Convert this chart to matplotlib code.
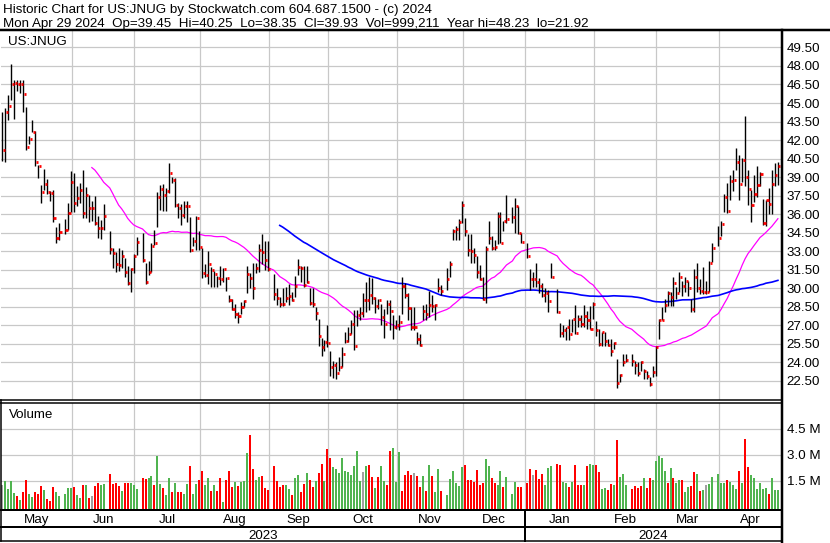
import numpy as np
import pandas as pd
import matplotlib
matplotlib.use("Agg")
import matplotlib.pyplot as plt
from matplotlib.lines import Line2D

# one slot per weekday, market holidays left empty (None)
days = pd.bdate_range("2023-05-01", "2024-04-29")

high = [
    # May 2023
    44.3, 44.57, 45.65, 48.16, 46.9, 46.86, 46.9, 46.9, 44.65, 42.33, 43.62, 42.76, 39.95, 38.4, 39.66, 38.82,
    37.9, 37.93, 34.93, 35.26, None, 35.58, 36.88,
    # Jun
    39.5, 39.33, 38.28, 38.55, 39.58, 38.23, 37.53, 37.07, 37.47, 35.88, 35.53, 36.82, None, 34.65, 33.3, 32.97,
    33.3, 33.11, 32.44, 31.79, 31.63, 32.76,
    # Jul
    34.16, None, 34.46, 32.03, 32.25, 33.7, 34.73, 37.83, 38.37, 38.42, 38.1, 40.12, 39.04, 38.9, 36.91, 36.8,
    37.07, 37.07, 35.81, 34.16, 35.89,
    # Aug
    34.64, 33.27, 31.99, 33.05, 31.72, 31.4, 31.0, 31.77, 31.64, 30.95, 29.45, 29.1, 28.77, 28.1, 28.9, 29.05,
    31.77, 31.2, 32.05, 32.05, 33.55, 34.36, 33.8,
    # Sep
    33.8, None, 31.15, 30.0, 29.32, 30.0, 30.08, 30.35, 29.73, 31.0, 32.4, 31.83, 31.83, 31.83, 30.0, 30.0,
    28.5, 27.49, 25.99, 25.83, 27.0,
    # Oct
    24.9, 24.14, 24.0, 24.46, 25.23, 26.45, 26.86, 27.4, 28.23, 28.28, 28.5, 29.59, 30.55, 30.9, 30.82, 29.32,
    29.16, 28.77, 28.36, 29.05, 29.05, 27.82,
    # Nov
    27.41, 27.82, 30.95, 30.41, 29.59, 28.5, 28.5, 26.45, 26.32, 28.64, 28.77, 29.78, 29.45, 28.77, 30.82, 30.27,
    None, 31.64, 32.18, 34.83, 35.05, 35.59,
    # Dec
    37.09, 35.73, 34.36, 34.36, 33.27, 32.59, 31.91, 30.95, 33.41, 35.45, 34.23, 33.95, 36.14, 36.14, 35.45, 37.55,
    None, 36.55, 37.28, 36.68, 34.5,
    # Jan 2024
    None, 33.68, 31.55, 31.36, 32.05, 30.82, 30.41, 30.0, 29.86, 32.05, None, 29.92, 27.19, 27.0, 26.86, 27.55,
    27.55, 28.64, 27.82, 27.82, 28.64, 28.2, 28.6,
    # Feb
    28.87, 27.38, 26.71, 26.44, 26.44, 25.9, 25.9, 25.63, 24.28, 23.07, 24.69, 24.69, None, 24.69, 24.15, 24.01,
    24.15, 23.47, 23.34, 22.8, 23.74,
    # Mar
    25.36, 27.52, 28.46, 29.14, 29.81, 29.68, 30.89, 30.08, 31.3, 30.62, 30.89, 30.62, 29.14, 31.57, 32.05, 30.76,
    31.7, 30.62, 32.24, 33.67, None,
    # Apr
    35.07, 35.48, 37.64, 38.52, 39.19, 39.6, 41.35, 40.81, 40.54, 43.97, 39.6, 37.98, 39.19, 39.87, 39.4, 37.23,
    37.17, 38.12, 39.6, 40.14, 40.25,
]

low = [
    # May 2023
    40.3, 40.25, 43.62, 45.24, 43.68, 46.0, 45.78, 44.3, 41.2, 41.65, 42.65, 39.9, 38.9, 36.93, 37.93, 37.63,
    37.1, 35.39, 33.64, 33.9, None, 34.37, 34.69,
    # Jun
    36.17, 36.2, 36.69, 36.93, 35.72, 35.72, 35.37, 35.45, 35.1, 34.05, 33.96, 34.72, None, 32.81, 31.63, 31.3,
    31.44, 31.63, 30.92, 30.28, 29.68, 31.2,
    # Jul
    32.7, None, 32.16, 30.33, 31.09, 31.36, 33.51, 34.94, 36.35, 36.29, 36.29, 37.7, 38.5, 36.6, 35.67, 35.13,
    35.67, 35.4, 32.97, 33.4, 33.08,
    # Aug
    33.14, 30.82, 30.9, 30.35, 30.14, 30.14, 30.08, 30.27, 30.55, 29.78, 28.9, 28.23, 27.63, 27.19, 27.95, 28.5,
    29.6, 30.0, 29.13, 31.2, 31.36, 32.0, 31.5,
    # Sep
    31.4, None, 29.05, 28.64, 28.5, 28.56, 28.9, 28.64, 29.0, 29.32, 31.1, 30.5, 30.14, 30.46, 28.64, 28.5,
    27.4, 25.36, 24.55, 24.95, 25.28,
    # Oct
    22.91, 22.72, 22.64, 23.3, 23.6, 25.56, 25.64, 26.32, 25.0, 26.95, 27.4, 27.68, 28.1, 28.23, 28.77, 28.0,
    28.3, 27.0, 26.0, 27.9, 26.59, 25.91,
    # Nov
    26.7, 26.59, 27.95, 29.18, 27.41, 26.59, 26.59, 25.5, 25.36, 27.41, 27.46, 27.68, 28.1, 27.46, 29.73, 29.45,
    None, 29.86, 30.95, 33.95, 33.95, 33.95,
    # Dec
    35.32, 34.23, 32.59, 32.05, 32.05, 30.82, 30.68, 29.05, 28.83, 33.55, 33.14, 33.14, 33.55, 33.68, 34.64, 35.32,
    None, 35.32, 34.5, 34.36, 33.68,
    # Jan 2024
    None, 32.45, 29.86, 30.14, 30.14, 29.59, 29.32, 28.91, 28.09, 30.82, None, 28.01, 26.05, 26.05, 25.83, 25.83,
    26.45, 26.32, 26.86, 26.86, 26.86, 26.7, 26.71,
    # Feb
    27.5, 26.17, 25.36, 25.36, 25.36, 25.36, 24.55, 25.1, 21.92, 22.39, 23.74, 24.0, None, 23.74, 23.07, 22.93,
    23.34, 22.66, 22.66, 22.12, 22.8,
    # Mar
    22.93, 25.9, 27.4, 28.06, 28.6, 28.6, 28.6, 29.14, 29.68, 29.4, 29.68, 29.4, 28.06, 28.06, 29.68, 29.54,
    29.54, 29.54, 29.68, 32.1, None,
    # Apr
    33.45, 34.26, 36.15, 36.1, 37.12, 37.85, 39.6, 37.12, 38.6, 38.25, 36.77, 35.34, 37.0, 37.4, 38.3, 35.15,
    35.01, 36.0, 36.0, 38.3, 38.35,
]

close = [
    # May 2023
    41.2, 44.3, 44.76, 46.5, 46.65, 46.5, 46.54, 45.76, 41.4, 42.1, 42.68, 40.22, 39.93, 37.8, 38.44, 37.8,
    37.74, 35.72, 34.1, 34.56, None, 34.75, 36.12,
    # Jun
    38.63, 36.93, 37.34, 37.98, 36.12, 37.58, 36.53, 36.53, 35.26, 34.91, 34.91, 35.85, None, 33.16, 32.89, 32.0,
    31.9, 32.65, 31.36, 30.44, 31.57, 32.65,
    # Jul
    33.78, None, 32.33, 30.55, 31.36, 33.46, 33.7, 37.43, 38.05, 37.56, 37.91, 39.34, 38.8, 36.75, 36.53, 35.94,
    36.7, 36.7, 33.14, 33.86, 35.73,
    # Aug
    33.33, 31.28, 31.09, 32.0, 31.5, 31.12, 30.82, 30.76, 31.55, 30.82, 29.05, 28.36, 27.95, 27.79, 28.45, 28.99,
    31.15, 30.87, 30.05, 31.64, 33.14, 32.92, 32.32,
    # Sep
    31.55, None, 29.51, 29.18, 28.72, 28.77, 29.18, 29.37, 29.05, 30.19, 31.69, 31.64, 30.27, 30.55, 28.83, 28.72,
    28.0, 26.13, 25.23, 25.64, 25.56,
    # Oct
    23.6, 23.8, 23.18, 23.65, 24.68, 25.77, 26.32, 27.13, 25.34, 27.87, 28.0, 29.05, 29.05, 29.46, 29.18, 28.55,
    29.05, 27.68, 27.14, 28.72, 28.17, 26.86,
    # Nov
    27.0, 27.27, 30.19, 29.48, 28.42, 26.86, 26.86, 25.88, 25.39, 28.17, 27.95, 28.64, 28.55, 28.64, 30.05, 29.78,
    None, 30.74, 31.99, 34.64, 34.77, 35.37,
    # Dec
    36.76, 34.64, 33.14, 33.05, 32.73, 31.34, 30.79, 29.16, 33.19, 34.06, 33.25, 33.33, 35.86, 33.68, 35.45, 35.59,
    None, 35.78, 36.68, 34.5, 33.79,
    # Jan 2024
    None, 32.65, 30.74, 30.74, 30.49, 30.19, 29.48, 29.59, 28.99, 30.95, None, 28.09, 26.37, 26.59, 26.84, 26.29,
    27.55, 26.37, 27.55, 27.08, 27.74, 27.4, 26.71,
    # Feb
    28.76, 26.66, 25.5, 26.44, 25.71, 25.44, 24.96, 25.58, 22.34, 23.02, 24.07, 24.23, None, 24.15, 23.82, 23.15,
    24.07, 23.34, 22.93, 22.26, 23.2,
    # Mar
    25.23, 27.47, 27.47, 28.65, 29.62, 29.3, 30.43, 29.62, 30.89, 30.22, 30.62, 30.03, 28.33, 30.89, 30.03, 29.81,
    29.73, 29.73, 32.02, 33.29, None,
    # Apr
    34.05, 35.23, 37.36, 36.23, 38.66, 38.79, 40.19, 38.47, 40.41, 38.98, 38.04, 36.71, 37.66, 38.33, 39.27, 35.28,
    37.12, 36.82, 38.47, 39.2, 39.93,
]

# volume in millions of shares
volume = [
    # May 2023
    1.28, 1.47, 1.05, 1.47, 0.78, 0.61, 0.38, 0.84, 1.53, 0.72, 0.55, 0.84, 0.72, 1.18, 0.99, 0.43,
    0.32, 1.12, 0.86, 0.61, None, 0.72, 1.07,
    # Jun
    1.11, 1.12, 0.66, 0.51, 1.24, 1.28, 0.49, 0.61, 1.18, 1.36, 1.24, 1.3, None, 1.87, 1.3, 1.39,
    1.18, 0.9, 1.36, 1.36, 1.39, 1.28,
    # Jul
    1.01, None, 1.64, 1.59, 1.64, 1.76, 1.28, 2.92, 1.3, 1.07, 0.66, 1.64, 0.84, 1.39, 0.84, 0.84,
    0.72, 1.3, 2.34, 0.72, 1.3,
    # Aug
    1.53, 2.05, 1.24, 1.64, 0.9, 1.24, 0.9, 1.64, 0.26, 1.53, 2.05, 1.12, 1.41, 1.18, 1.41, 1.47,
    3.09, 4.12, 2.16, 1.53, 1.7, 1.76, 1.07,
    # Sep
    1.0, None, 2.34, 1.47, 1.12, 1.24, 1.28, 1.01, 0.66, 1.64, 1.82, 0.84, 1.3, 1.93, 1.53, 1.12,
    1.47, 1.93, 2.45, 1.5, 3.32,
    # Oct
    2.82, 2.28, 2.16, 1.93, 2.8, 2.05, 2.0, 1.82, 2.34, 3.2, 1.47, 2.0, 2.34, 2.39, 1.7, 1.07,
    1.7, 2.34, 1.5, 1.24, 3.2, 3.37,
    # Nov
    1.41, 3.15, 0.9, 1.82, 2.05, 1.86, 1.93, 1.78, 1.12, 1.76, 0.9, 2.39, 1.76, 0.84, 2.16, 0.9,
    None, 0.66, 1.59, 2.05, 1.36, 1.18,
    # Dec
    2.28, 2.39, 1.53, 1.53, 1.41, 2.11, 1.24, 1.36, 2.74, 2.34, 1.64, 1.36, 1.24, 2.05, 1.12, 1.7,
    None, 0.72, 1.41, 1.12, 1.12,
    # Jan 2024
    None, 1.36, 2.16, 1.82, 2.11, 1.59, 1.87, 1.24, 2.22, 2.34, None, 2.45, 2.39, 1.41, 1.36, 1.12,
    1.41, 2.39, 1.24, 1.24, 1.24, 2.34, 2.45,
    # Feb
    2.39, 2.39, 2.0, 1.01, 1.07, 0.95, 1.3, 1.24, 3.84, 1.7, 1.87, 1.24, None, 1.01, 1.18, 1.07,
    1.18, 1.64, 1.07, 1.64, 1.53,
    # Mar
    2.63, 2.92, 2.8, 2.05, 1.36, 2.22, 1.64, 1.36, 1.53, 1.53, 0.84, 1.12, 1.18, 2.0, 1.87, 0.9,
    0.95, 1.24, 1.3, 1.7, None,
    # Apr
    1.87, 1.36, 1.36, 1.53, 1.41, 1.24, 1.01, 2.05, 1.36, 3.89, 2.28, 1.82, 1.64, 1.01, 1.36, 1.01,
    1.07, 0.72, 1.64, 0.95, 1.0,
]

# day direction as shown by the volume colours: u up, d down, n unchanged, - no trading
direction = (
    "nuuuududduuddduddduu-uu"       # May
    "uduududndduu-ddddudduu"        # Jun
    "u-dduuduuduududduuduu"         # Jul
    "dduududduddduduuudduudd"       # Aug
    "d-dddduuduuddudduddud"         # Sep
    "duuuuuuuuuunudduduuddu"        # Oct
    "uuddddnddududuud-uuuuu"        # Nov
    "uddddddduudduudu-uudd"         # Dec
    "-ddnddduuu-dduududddudu"       # Jan
    "udduudduduuu-dddduddu"         # Feb
    "uuuududuuduuddudunuu-"         # Mar
    "uuuduuududduuuuuuduuu"         # Apr
)

header1 = "Historic Chart for US:JNUG by Stockwatch.com 604.687.1500 - (c) 2024"
header2 = "Mon Apr 29 2024  Op=39.45  Hi=40.25  Lo=38.35  Cl=39.93  Vol=999,211  Year hi=48.23  lo=21.92"

plt.rcParams["font.family"] = ["Liberation Sans", "DejaVu Sans"]

W, H = 830, 543
fig = plt.figure(figsize=(W / 100, H / 100), dpi=100)


def box(x0, y0, x1, y1):
    return [x0 / W, 1 - y1 / H, (x1 - x0) / W, (y1 - y0) / H]


def fline(xs, ys, lw):
    fig.add_artist(Line2D([v / W for v in xs], [1 - v / H for v in ys], color="black", lw=lw * 0.72))


x = np.arange(len(days))
hi = np.array(high, dtype=float)
lo = np.array(low, dtype=float)
cl = np.array(close, dtype=float)
vol = np.array(volume, dtype=float)
ok = ~np.isnan(cl)

xlim = (-0.45, 261.04)

# month boundaries: first weekday of the month (weekend 1st falls back to the Friday)
grid_x = []
for d in pd.date_range("2023-06-01", "2024-04-01", freq="MS"):
    i = days.searchsorted(d)
    if days[i] != d:
        i -= 1
    grid_x.append(i + 0.3)
jan_x = grid_x[7]
grid_c = "#c8c8c8"
fs = 9.6

# ---- price panel
ax = fig.add_axes(box(1, 31, 781, 400))
ax.set_xlim(*xlim)
ax.set_ylim(20.96, 50.83)
ticks = np.arange(22.5, 49.51, 1.5)
ax.set_yticks(ticks)
ax.set_yticklabels([f"{t:.2f}" for t in ticks], fontsize=fs)
ax.yaxis.tick_right()
ax.tick_params(axis="y", length=0, pad=4)
ax.set_xticks(grid_x)
ax.tick_params(axis="x", length=0, labelbottom=False)
ax.grid(True, color=grid_c, lw=0.9)
ax.set_axisbelow(True)
for s in ax.spines.values():
    s.set_visible(False)

ax.vlines(x[ok], lo[ok], hi[ok], color="black", lw=1.0, zorder=3)
ax.hlines(cl[ok], x[ok] + 0.15, x[ok] + 0.85, color="#ff0000", lw=2.0, zorder=4)

s = pd.Series(cl[ok])
ax.plot(x[ok], s.rolling(30).mean(), color="#ff00ff", lw=0.9, zorder=2)
ax.plot(x[ok], s.rolling(90).mean(), color="#0000ff", lw=1.2, zorder=2)
ax.text(7 / 780, 1 - 14.3 / 369, "US:JNUG", transform=ax.transAxes, fontsize=fs, va="baseline")

# ---- volume panel
av = fig.add_axes(box(1, 402.5, 781, 509))
av.set_xlim(*xlim)
av.set_ylim(-0.12, 6.0)
vt = [1.5, 3.0, 4.5]
av.set_yticks(vt)
av.set_yticklabels([f"{t:.1f} M" for t in vt], fontsize=fs)
av.yaxis.tick_right()
av.tick_params(axis="y", length=0, pad=4)
av.set_xticks(grid_x)
av.tick_params(axis="x", length=0, labelbottom=False)
av.grid(True, color=grid_c, lw=0.9)
av.set_axisbelow(True)
for s_ in av.spines.values():
    s_.set_visible(False)
colors = {"u": "#50b450", "d": "#ff0000", "n": "#a0a0a0"}
vok = ~np.isnan(vol)
bar_c = [colors[direction[i]] for i in x[vok]]
av.bar(x[vok], vol[vok] + 0.12, bottom=-0.12, width=0.67, color=bar_c, zorder=2)
av.text(8 / 780, 1 - 15.2 / 106.5, "Volume", transform=av.transAxes, fontsize=fs, va="baseline")

# ---- month and year rows
am = fig.add_axes(box(1, 510.5, 781, 526.5))
ay = fig.add_axes(box(1, 528, 781, 541))
for a in (am, ay):
    a.set_xlim(*xlim)
    a.set_ylim(0, 1)
    a.axis("off")
bounds = [xlim[0]] + grid_x + [xlim[1]]
months = ["May", "Jun", "Jul", "Aug", "Sep", "Oct", "Nov", "Dec", "Jan", "Feb", "Mar", "Apr"]
for m, a0, a1 in zip(months, bounds[:-1], bounds[1:]):
    am.text((a0 + a1) / 2, 0.2, m, ha="center", va="baseline", fontsize=fs)
for yr, a0, a1 in [("2023", xlim[0], jan_x), ("2024", jan_x, xlim[1])]:
    ay.text((a0 + a1) / 2, 0.15, yr, ha="center", va="baseline", fontsize=fs)

# ---- frame lines
jan_px = 2.33 + jan_x * 2.983
fline([0, 830], [30, 30], 2.5)
fline([0, 781], [400, 400], 1.5)
fline([0, 781], [402.7, 402.7], 1.5)
fline([0, 781], [510, 510], 2)
fline([0, 781], [527, 527], 2)
fline([0, 781], [541, 541], 1.5)
fline([781.7, 781.7], [30, 543], 2.5)
fline([0.7, 0.7], [400, 541], 1.5)
fline([jan_px, jan_px], [510, 541], 2)

fig.text(3 / W, 1 - 13.3 / H, header1, fontsize=9.6, va="baseline")
fig.text(3 / W, 1 - 26.7 / H, header2, fontsize=9.6, va="baseline")

fig.savefig("out.png", dpi=100)
